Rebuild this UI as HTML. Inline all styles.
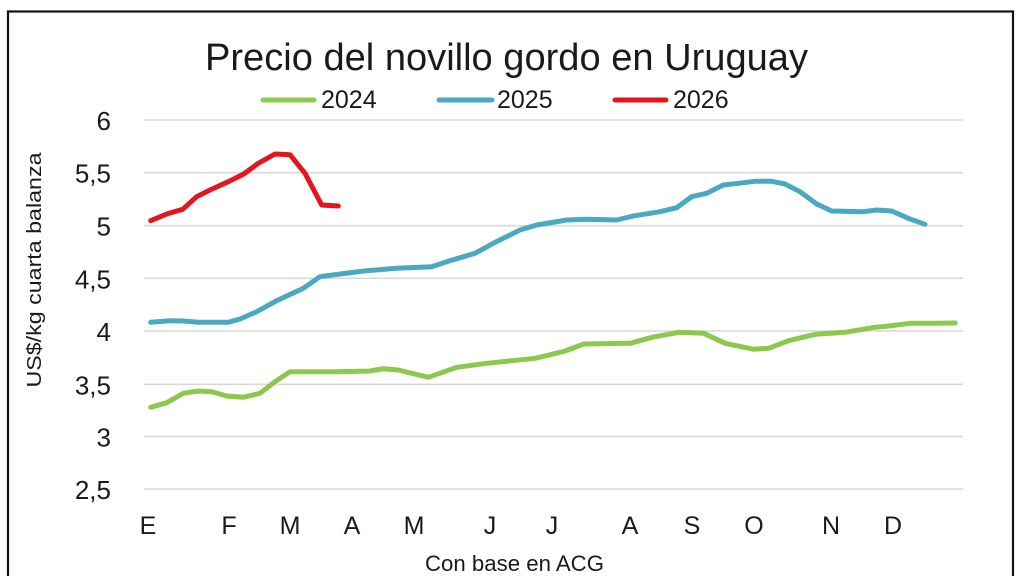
<!DOCTYPE html>
<html>
<head>
<meta charset="utf-8">
<style>
  html,body{margin:0;padding:0;background:#fff;}
  body{width:1024px;height:576px;overflow:hidden;}
  svg{display:block;}
  text{font-family:"Liberation Sans",Arial,sans-serif;fill:#1a1a1a;}
</style>
</head>
<body>
<svg width="1024" height="576" viewBox="0 0 1024 576" xmlns="http://www.w3.org/2000/svg">
  <rect x="0" y="0" width="1024" height="576" fill="#fff"/>
  <!-- outer border -->
  <rect x="8" y="11.5" width="1005" height="580" fill="none" stroke="#111" stroke-width="2.2"/>

  <!-- title -->
  <text x="205" y="70" font-size="38" textLength="603" lengthAdjust="spacingAndGlyphs">Precio del novillo gordo en Uruguay</text>

  <!-- legend -->
  <g stroke-width="5" stroke-linecap="round">
    <line x1="263" y1="100" x2="314" y2="100" stroke="#8cc84b"/>
    <line x1="439" y1="100" x2="492" y2="100" stroke="#4aa9c2"/>
    <line x1="615" y1="100" x2="666" y2="100" stroke="#e3161b"/>
  </g>
  <text x="321" y="108" font-size="25">2024</text>
  <text x="497" y="108" font-size="25">2025</text>
  <text x="673" y="108" font-size="25">2026</text>

  <!-- gridlines -->
  <g stroke="#d9d9d9" stroke-width="1.6">
    <line x1="144" y1="120" x2="963" y2="120"/>
    <line x1="144" y1="172.7" x2="963" y2="172.7"/>
    <line x1="144" y1="225.7" x2="963" y2="225.7"/>
    <line x1="144" y1="278.3" x2="963" y2="278.3"/>
    <line x1="144" y1="331" x2="963" y2="331"/>
    <line x1="144" y1="384.3" x2="963" y2="384.3"/>
    <line x1="144" y1="436.5" x2="963" y2="436.5"/>
    <line x1="144" y1="489" x2="963" y2="489"/>
  </g>

  <!-- y labels -->
  <g font-size="26" text-anchor="end">
    <text x="111" y="130">6</text>
    <text x="111" y="182.7">5,5</text>
    <text x="111" y="235.7">5</text>
    <text x="111" y="288.3">4,5</text>
    <text x="111" y="341">4</text>
    <text x="111" y="394.3">3,5</text>
    <text x="111" y="446.5">3</text>
    <text x="111" y="499">2,5</text>
  </g>

  <!-- y title -->
  <text transform="translate(41,270) rotate(-90)" font-size="20" text-anchor="middle" textLength="235" lengthAdjust="spacingAndGlyphs">US$/kg cuarta balanza</text>

  <!-- x labels -->
  <g font-size="25" text-anchor="middle">
    <text x="148" y="534">E</text>
    <text x="229" y="534">F</text>
    <text x="290" y="534">M</text>
    <text x="352" y="534">A</text>
    <text x="414" y="534">M</text>
    <text x="490" y="534">J</text>
    <text x="552" y="534">J</text>
    <text x="630" y="534">A</text>
    <text x="692" y="534">S</text>
    <text x="754" y="534">O</text>
    <text x="831" y="534">N</text>
    <text x="893" y="534">D</text>
  </g>

  <!-- x title -->
  <text x="425" y="571" font-size="22" textLength="179" lengthAdjust="spacingAndGlyphs">Con base en ACG</text>

  <!-- series -->
  <g fill="none" stroke-width="5" stroke-linejoin="round" stroke-linecap="round">
    <polyline stroke="#8cc84b" points="150.7,407.3 166.7,402.7 183.3,393.3 198.3,391 211.7,391.7 226.7,396 243.3,397.3 260,393.3 275,381.7 290,371.7 336.7,371.7 370,371 383.3,368.7 398.3,370 428.3,377.3 456.7,367.3 486.7,363.3 512,360.7 535.3,358.3 565.3,351 583.7,344 630.3,343.3 652,337.3 678.7,332.3 703.7,333.3 725.3,343.3 753.7,349.3 768.7,348.3 788.7,340.7 815.3,334.3 845.3,332.3 872,327.7 888.7,326 910.3,323.3 935.3,323.3 955.3,323"/>
    <polyline stroke="#4aa9c2" points="150.7,322.3 170,320.7 183.3,321 198.3,322.3 228.3,322.3 240,319 256.7,311.7 276.7,300.7 303.3,288.3 320,276.7 340,274 366.7,270.7 396.7,268.3 420,267.3 431.7,266.7 446.7,261.7 475,253.3 493.3,243.3 520,230 536.7,225 566.7,220 586.7,219.3 616.7,220 633.3,216 660,211.7 676.7,207.7 691.7,196.7 706.7,193.3 723.3,185 738.3,183.3 755,181.3 771.7,181.3 785,184 800,191.7 816.7,204 831.7,211 863.3,211.7 876.7,210 891.7,211 908.3,218.3 925,224.3"/>
    <polyline stroke="#e3161b" points="150.7,220.7 166.7,214 182.7,209.3 196.7,196.7 210,190 228.3,181.7 243.3,174.3 258.3,163.3 275,154 290,154.7 305,173.3 321.7,205 338.3,206"/>
  </g>
</svg>
</body>
</html>
